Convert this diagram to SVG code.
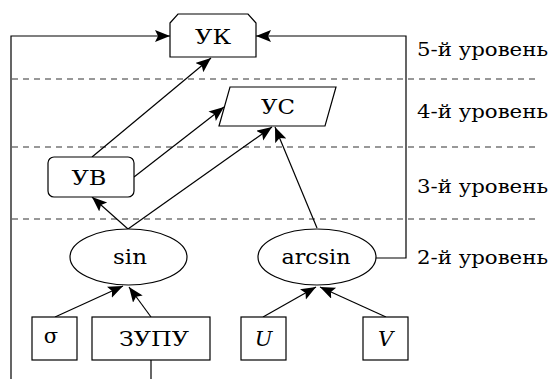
<svg xmlns="http://www.w3.org/2000/svg" width="551" height="379" viewBox="0 0 551 379">
<style>
.s{fill:#fff;stroke:#000;stroke-width:1.2}
.l{fill:none;stroke:#000;stroke-width:1.2}
.a{fill:none;stroke:#000;stroke-width:1.2;marker-end:url(#ah)}
.d{fill:none;stroke:#333;stroke-width:1.2;stroke-dasharray:6,5}
.t{font-family:"DejaVu Serif","Liberation Serif",serif;font-size:21px;text-anchor:middle;fill:#000}
.lv{font-family:"DejaVu Serif","Liberation Serif",serif;font-size:18px;fill:#000}
.i{font-style:italic}
</style>
<defs>
<marker id="ah" markerUnits="userSpaceOnUse" markerWidth="18" markerHeight="14" refX="15" refY="6" orient="auto">
<path d="M0,0 L15,6 L0,12 L3,6 Z" fill="#000"/>
</marker>
</defs>
<g id="levels">
<line class="d" x1="12" y1="79" x2="540" y2="79"/>
<line class="d" x1="12" y1="147" x2="540" y2="147"/>
<line class="d" x1="12" y1="219" x2="540" y2="219"/>
<text class="lv" x="417" y="56" textLength="131" lengthAdjust="spacingAndGlyphs">5-й уровень</text>
<text class="lv" x="417" y="118" textLength="131" lengthAdjust="spacingAndGlyphs">4-й уровень</text>
<text class="lv" x="417" y="193" textLength="131" lengthAdjust="spacingAndGlyphs">3-й уровень</text>
<text class="lv" x="417" y="264" textLength="131" lengthAdjust="spacingAndGlyphs">2-й уровень</text>
</g>
<g id="connectors">
<line class="l" x1="151" y1="360" x2="151" y2="379"/>
<polyline class="a" points="11,379 11,36 170,36"/>
<polyline class="a" points="376,258 406,258 406,36 256,36"/>
<line class="a" x1="92" y1="157" x2="211" y2="58"/>
<line class="a" x1="134" y1="177" x2="224" y2="107"/>
<line class="a" x1="128" y1="229" x2="92" y2="197"/>
<line class="a" x1="128" y1="229" x2="272" y2="127"/>
<line class="a" x1="317" y1="228" x2="275" y2="127"/>
<line class="a" x1="55" y1="317" x2="123" y2="286"/>
<line class="a" x1="151" y1="317" x2="129" y2="287"/>
<line class="a" x1="263" y1="317" x2="316" y2="287"/>
<line class="a" x1="386" y1="317" x2="320" y2="287"/>
</g>
<g id="UK">
<polygon class="s" points="170,23 178,14 248,14 256,23 256,57 170,57"/>
<text class="t" x="213" y="44" textLength="36" lengthAdjust="spacingAndGlyphs">УК</text>
</g>
<g id="US">
<polygon class="s" points="230,87 336,87 325,126 219,126"/>
<text class="t" x="278" y="114" textLength="34" lengthAdjust="spacingAndGlyphs">УС</text>
</g>
<g id="UV">
<rect class="s" x="48" y="157" width="86" height="40" rx="6"/>
<text class="t" x="89" y="185" textLength="35" lengthAdjust="spacingAndGlyphs">УВ</text>
</g>
<g id="sin">
<ellipse class="s" cx="128.5" cy="257" rx="58.5" ry="28"/>
<text class="t" x="130" y="264" textLength="34" lengthAdjust="spacingAndGlyphs">sin</text>
</g>
<g id="arcsin">
<ellipse class="s" cx="317" cy="257" rx="59" ry="28"/>
<text class="t" x="316" y="264" textLength="69" lengthAdjust="spacingAndGlyphs">arcsin</text>
</g>
<g id="sigma">
<rect class="s" x="32" y="317" width="45" height="43"/>
<text class="t" x="51" y="343">σ</text>
</g>
<g id="ZUPU">
<rect class="s" x="92" y="317" width="118" height="43"/>
<text class="t" x="154" y="346" textLength="70" lengthAdjust="spacingAndGlyphs">ЗУПУ</text>
</g>
<g id="U">
<rect class="s" x="241" y="317" width="45" height="43"/>
<text class="t i" x="263.5" y="346">U</text>
</g>
<g id="V">
<rect class="s" x="363" y="317" width="45" height="43"/>
<text class="t i" x="385.5" y="346">V</text>
</g>
</svg>
